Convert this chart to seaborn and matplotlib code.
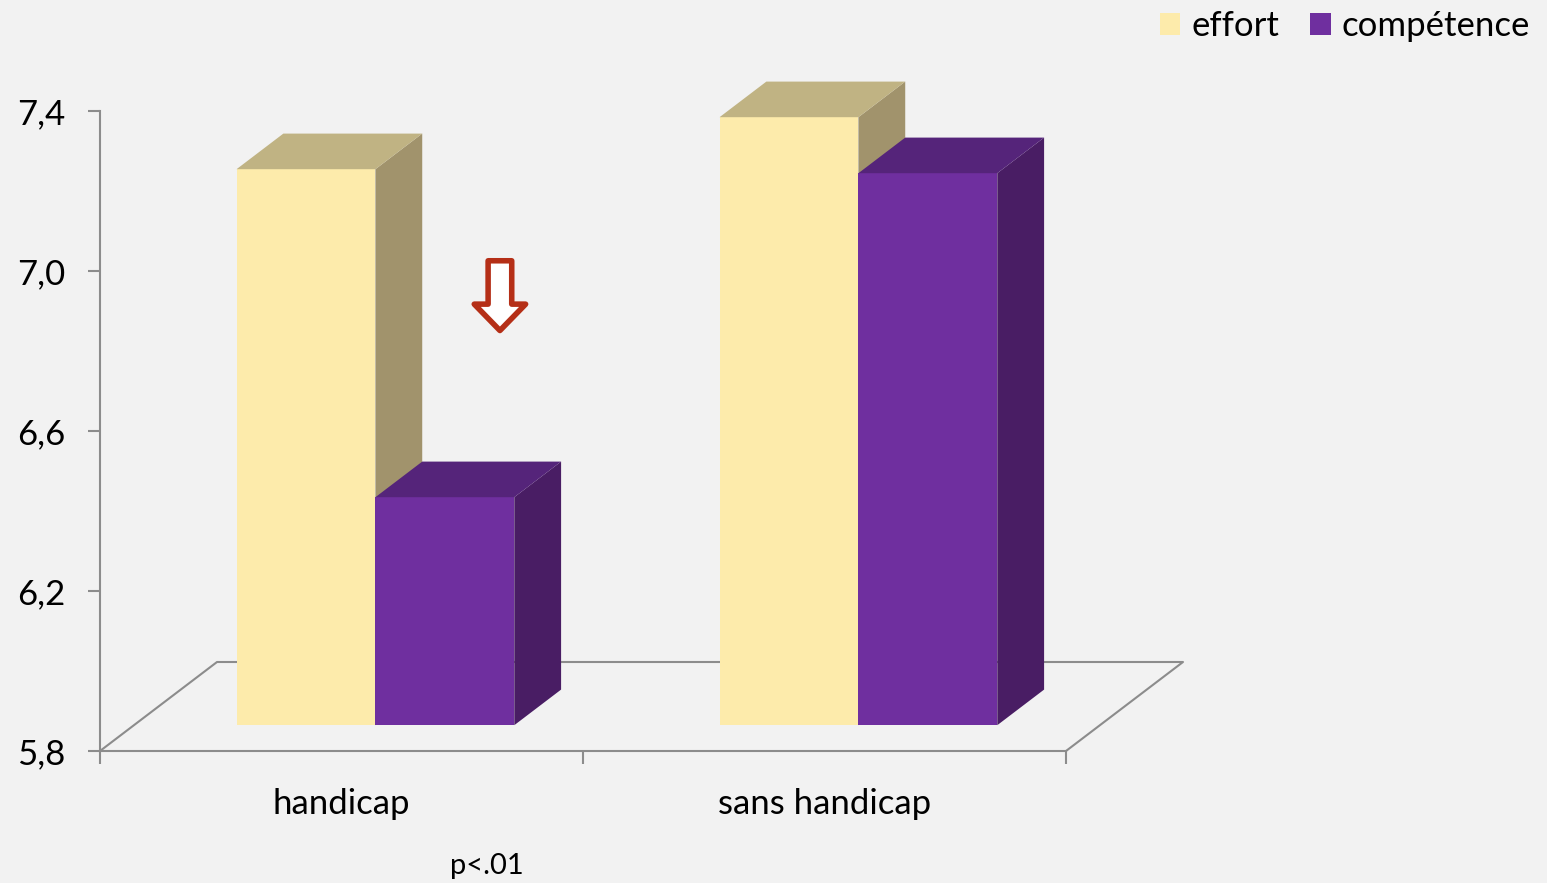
import matplotlib
matplotlib.use('Agg')
import matplotlib.pyplot as plt
from matplotlib.patches import Polygon, Rectangle
from matplotlib.ticker import FixedLocator, FuncFormatter
import seaborn as sns
import pandas as pd

# données
groups = ['handicap', 'sans handicap']
series = ['effort', 'compétence']
effort = [7.19, 7.32]
competence = [6.37, 7.18]
y_ticks = [5.8, 6.2, 6.6, 7.0, 7.4]
y_min, y_max = 5.8, 7.4

front_colors = {'effort': '#FDEBAB', 'compétence': '#6F2F9F'}
top_colors = {'effort': '#C0B383', 'compétence': '#55247A'}
side_colors = {'effort': '#A1936C', 'compétence': '#491D64'}
grey = '#8C8C8C'

df = pd.DataFrame({
    'groupe': groups * 2,
    'serie': ['effort'] * 2 + ['compétence'] * 2,
    'valeur': effort + competence,
})

plt.rcParams['font.family'] = ['Lato', 'DejaVu Sans']

W, H = 1547, 883
fig = plt.figure(figsize=(W / 100, H / 100), dpi=100)
fig.patch.set_facecolor('#F2F2F2')
ax_w, ax_h = 966, 640
ax = fig.add_axes([100 / W, (H - 751) / H, ax_w / W, ax_h / H])
ax.set_facecolor('none')

sns.barplot(data=df, x='groupe', y='valeur', hue='serie', hue_order=series,
            palette=front_colors, width=0.575, saturation=1, errorbar=None,
            linewidth=0, legend=False, ax=ax)
ax.set_xlim(-0.5, 1.5)
ax.set_ylim(y_min, y_max)

# profondeur du plancher (en pixels) convertie en unités de données
xu = 2.0 / ax_w
yu = (y_max - y_min) / ax_h
dxf, dyf = 117 * xu, 89 * yu
dx0, dy0 = 0.29 * dxf, 0.29 * dyf      # position de la face avant
ddx, ddy = 0.40 * dxf, 0.40 * dyf      # épaisseur des barres

# plancher
ax.plot([-0.5, -0.5 + dxf, 1.5 + dxf, 1.5], [y_min, y_min + dyf, y_min + dyf, y_min],
        color=grey, lw=1.5, clip_on=False, zorder=1)

# faces 3D construites à partir des barres seaborn
for i, (cont, s) in enumerate(zip(ax.containers, series)):
    z = 2 + i
    for p in cont:
        v = p.get_height()
        left = p.get_x() + dx0
        right = left + p.get_width()
        bottom = y_min + dy0
        top = v + dy0
        p.set_x(left)
        p.set_y(bottom)
        p.set_height(v - y_min)
        p.set_zorder(z)
        p.set_clip_on(False)
        side = Polygon([(right, bottom), (right + ddx, bottom + ddy),
                        (right + ddx, top + ddy), (right, top)],
                       closed=True, fc=side_colors[s], ec='none', zorder=z, clip_on=False)
        lid = Polygon([(left, top), (left + ddx, top + ddy),
                       (right + ddx, top + ddy), (right, top)],
                      closed=True, fc=top_colors[s], ec='none', zorder=z, clip_on=False)
        ax.add_patch(side)
        ax.add_patch(lid)

# axes
for sp in ['top', 'right']:
    ax.spines[sp].set_visible(False)
for sp in ['left', 'bottom']:
    ax.spines[sp].set_color(grey)
    ax.spines[sp].set_linewidth(1.5)
    ax.spines[sp].set_zorder(1)

ax.yaxis.set_major_locator(FixedLocator(y_ticks))
ax.yaxis.set_major_formatter(FuncFormatter(lambda v, _: f'{v:.1f}'.replace('.', ',')))
ax.tick_params(axis='y', length=9, width=1.5, color=grey, pad=16, labelsize=25)
ax.set_xticks([0, 1])
ax.set_xticklabels(groups)
ax.set_xticks([-0.5, 0.5, 1.5], minor=True)
ax.tick_params(axis='x', which='major', length=0, pad=27, labelsize=25)
ax.tick_params(axis='x', which='minor', length=9, width=1.5, color=grey)
ax.set_xlabel('')
ax.set_ylabel('')

# flèche
ax.annotate('', xy=(0.414, 0.657), xytext=(0.414, 0.766), xycoords='axes fraction',
            arrowprops=dict(arrowstyle='simple,head_length=0.95,head_width=1.85,tail_width=0.85',
                            fc='white', ec='#B52F17', lw=4, shrinkA=0, shrinkB=0,
                            mutation_scale=20))

fig.text(487 / W, 1 - 866 / H, 'p<.01', ha='center', va='center', fontsize=21)

handles = [Rectangle((0, 0), 1, 1, fc=front_colors[s], ec='none') for s in series]
fig.legend(handles, series, loc='upper right', bbox_to_anchor=(1530 / W, 1 - 10 / H),
           ncol=2, frameon=False, fontsize=25, handlelength=0.58, handleheight=0.58,
           handletextpad=0.32, columnspacing=0.9, borderaxespad=0, borderpad=0)

fig.savefig('out.png', dpi=100, facecolor=fig.get_facecolor())
